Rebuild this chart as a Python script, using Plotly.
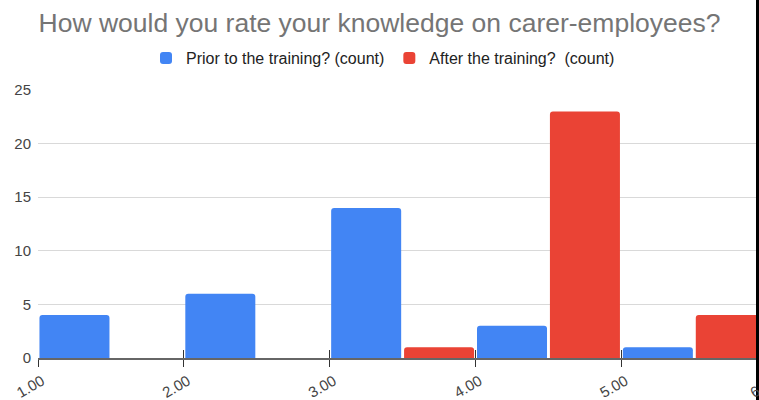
import plotly.graph_objects as go

bin_starts = [1, 2, 3, 4, 5]
prior_counts = [4, 6, 14, 3, 1]
after_counts = [0, 0, 1, 23, 4]
x_tick_vals = [1, 2, 3, 4, 5, 6]
x_tick_text = ["1.00", "2.00", "3.00", "4.00", "5.00", "6.00"]
y_tick_vals = [0, 5, 10, 15, 20, 25]

BLUE = "#4285F4"
RED = "#EA4335"
FONT = "Liberation Sans, Arial, sans-serif"

fig = go.Figure()
fig.add_trace(go.Bar(
    x=[b + 0.25 for b in bin_starts], y=prior_counts, width=0.48,
    marker=dict(color=BLUE, line=dict(width=0)),
    name="Prior to the training? (count)"))
fig.add_trace(go.Bar(
    x=[b + 0.75 for b in bin_starts], y=after_counts, width=0.48,
    marker=dict(color=RED, line=dict(width=0)),
    name="After the training?  (count)"))
# invisible trace to draw upper half of crossing ticks
fig.add_trace(go.Scatter(x=[1], y=[0], xaxis="x2", mode="markers",
                         marker=dict(opacity=0), showlegend=False, hoverinfo="skip"))

PX_PER_UNIT = 145.85
PLOT_W = 721
x_range = [1, 1 + PLOT_W / PX_PER_UNIT]

# last tick label (6.00) lies beyond the visible range and is cut at the edge
last_tick_paper = (x_tick_vals[-1] - x_range[0]) * PX_PER_UNIT / PLOT_W

fig.update_layout(
    width=759, height=400,
    margin=dict(l=38, r=0, t=90, b=42, autoexpand=False),
    paper_bgcolor="white", plot_bgcolor="white",
    barmode="overlay", barcornerradius=3,
    font=dict(family=FONT, color="#444444", size=15),
    title=dict(text="How would you rate your knowledge on carer-employees?",
               font=dict(family=FONT, size=26.5, color="#757575"),
               xref="container", x=0.5, xanchor="center",
               yref="container", y=1 - 23 / 400, yanchor="middle"),
    legend=dict(orientation="h", xref="container", x=383 / 759, xanchor="center",
                yref="container", y=1 - 58 / 400, yanchor="middle",
                font=dict(family=FONT, size=16, color="#222222")),
    xaxis=dict(range=x_range, tickvals=x_tick_vals, ticktext=x_tick_text,
               tickangle=-30, ticks="outside", ticklen=7, tickcolor="#333333", tickwidth=1,
               showline=True, linecolor="#666666", linewidth=1.5,
               showgrid=False, zeroline=False, automargin=False,
               ticklabelshift=4,
               tickfont=dict(family=FONT, size=15, color="#444444")),
    xaxis2=dict(range=x_range, overlaying="x", side="bottom", tickvals=x_tick_vals,
                showticklabels=False, ticks="inside", ticklen=8, tickcolor="#333333",
                tickwidth=1, showline=False, showgrid=False, zeroline=False,
                automargin=False),
    yaxis=dict(range=[0, 25], tickvals=y_tick_vals, showgrid=True,
               gridcolor="#d9d9d9", gridwidth=1, zeroline=False,
               ticks="", ticklabelstandoff=6, automargin=False,
               tickfont=dict(family=FONT, size=15, color="#444444")),
    annotations=[dict(text=x_tick_text[-1], xref="paper", yref="paper",
                      x=last_tick_paper, y=-28 / 268, xanchor="center", yanchor="middle",
                      xshift=-4, textangle=-30, showarrow=False,
                      font=dict(family=FONT, size=15, color="#444444"))],
    shapes=[dict(type="rect", xref="paper", yref="paper",
                 x0=(756 - 38) / PLOT_W, x1=1.0, y0=-42 / 268, y1=358 / 268,
                 fillcolor="black", line=dict(width=0), layer="above")],
)

fig.write_html("out.html", config={"displayModeBar": False},
               post_script="document.body.style.margin='0';document.body.style.overflow='hidden';")
